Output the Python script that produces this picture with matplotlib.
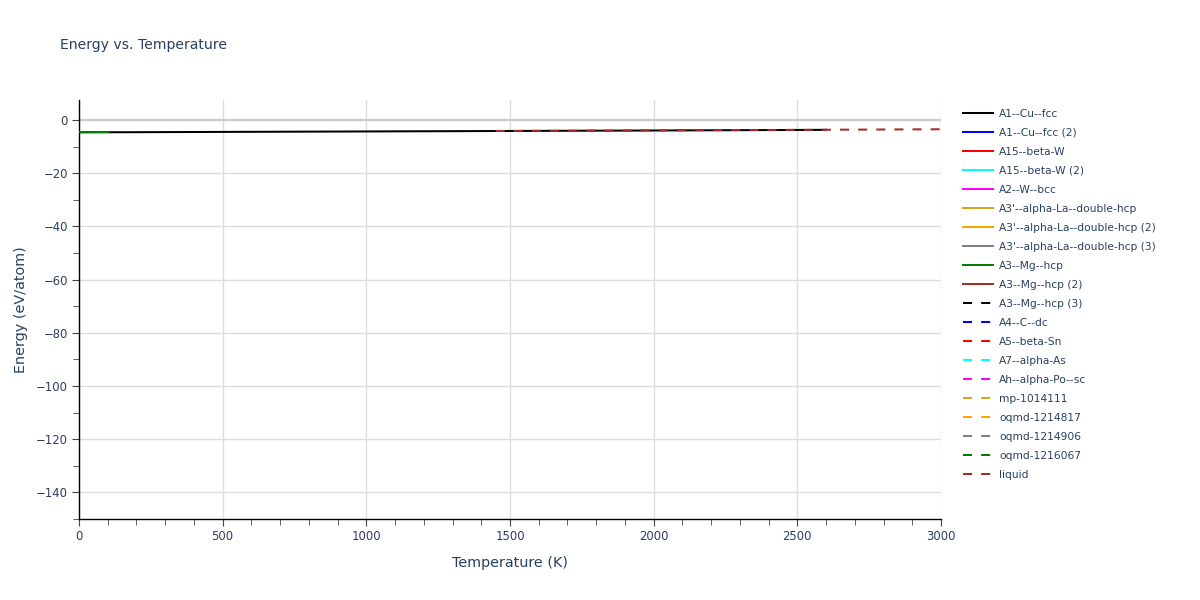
import matplotlib
matplotlib.use("Agg")
import matplotlib.pyplot as plt
from matplotlib.ticker import MultipleLocator

# series names and colours (legend order)
names = ["A1--Cu--fcc", "A1--Cu--fcc (2)", "A15--beta-W", "A15--beta-W (2)", "A2--W--bcc",
         "A3'--alpha-La--double-hcp", "A3'--alpha-La--double-hcp (2)", "A3'--alpha-La--double-hcp (3)",
         "A3--Mg--hcp", "A3--Mg--hcp (2)", "A3--Mg--hcp (3)", "A4--C--dc", "A5--beta-Sn",
         "A7--alpha-As", "Ah--alpha-Po--sc", "mp-1014111", "oqmd-1214817", "oqmd-1214906",
         "oqmd-1216067", "liquid"]
colors = ["black", "blue", "red", "cyan", "magenta", "goldenrod", "orange", "grey", "green", "brown"] * 2

# visible data
cu_T = [0, 200, 400, 600, 800, 1000, 1200, 1400, 1600, 1800, 2000, 2200, 2400, 2600]
cu_E = [-4.65, -4.6, -4.53, -4.46, -4.39, -4.32, -4.25, -4.18, -4.1, -4.03, -3.96, -3.88, -3.8, -3.72]
mg2_T = [0, 100]
mg2_E = [-4.4, -4.4]
mg_T = [0, 100]
mg_E = [-4.5, -4.5]
liq_T = [1450, 1700, 2000, 2300, 2600, 3000]
liq_E = [-4.15, -4.05, -3.92, -3.8, -3.68, -3.5]

data = {"A1--Cu--fcc": (cu_T, cu_E),
        "A3--Mg--hcp (2)": (mg2_T, mg2_E),
        "A3--Mg--hcp": (mg_T, mg_E),
        "liquid": (liq_T, liq_E)}
zorders = {"A1--Cu--fcc": 3, "liquid": 4, "A3--Mg--hcp (2)": 5, "A3--Mg--hcp": 6}

txt = "#2a3f5f"
plt.rcParams['font.family'] = ['DejaVu Sans']

fig = plt.figure(figsize=(12, 6), dpi=100)
ax = fig.add_axes([79 / 1200, 1 - 519 / 600, (941 - 79) / 1200, (519 - 100) / 600])

lw = 1.45
handles = []
for i, n in enumerate(names):
    ls = "-" if i < 10 else (0, (4.5, 4.5))
    T, E = data.get(n, ([], []))
    l, = ax.plot(T, E, color=colors[i], lw=lw, linestyle=ls, label=n, zorder=zorders.get(n, 2))
    handles.append(l)

ax.set_xlim(0, 3000)
ax.set_ylim(-150, 7.5)
ax.xaxis.set_major_locator(MultipleLocator(500))
ax.xaxis.set_minor_locator(MultipleLocator(100))
ax.yaxis.set_major_locator(MultipleLocator(20))
ax.yaxis.set_minor_locator(MultipleLocator(10))
ax.grid(True, which="major", color="#dddddd", lw=1)
ax.set_axisbelow(True)
ax.axhline(0, color="#cccccc", lw=1.6, zorder=1)
for s in ["top", "right"]:
    ax.spines[s].set_visible(False)
for s in ["left", "bottom"]:
    ax.spines[s].set_color("black")
    ax.spines[s].set_linewidth(1)
ax.tick_params(which="major", length=5, color="#444444", labelsize=8.4, labelcolor=txt, pad=3)
ax.tick_params(which="minor", length=4, color="#444444")

ax.set_xlabel("Temperature (K)", fontsize=10.4, color=txt, labelpad=9)
ax.set_ylabel("Energy (eV/atom)", fontsize=10.4, color=txt, labelpad=6)
fig.text(60 / 1200, 1 - 45 / 600, "Energy vs. Temperature", fontsize=10.1, color=txt, va="center")

leg = fig.legend(handles=handles, loc="upper left", bbox_to_anchor=(963 / 1200, 1 - 109 / 600),
                 frameon=False, fontsize=7.7, handlelength=2.8, labelspacing=0.84,
                 handletextpad=0.56, borderaxespad=0, borderpad=0)
for t in leg.get_texts():
    t.set_color(txt)

fig.savefig("out.png", dpi=100)
